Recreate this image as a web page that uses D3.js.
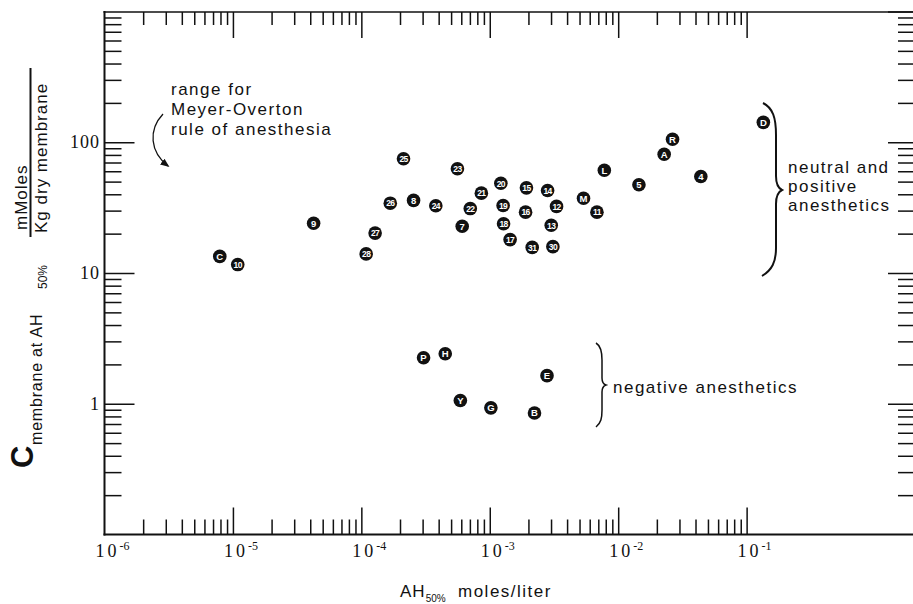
<!DOCTYPE html>
<html><head><meta charset="utf-8">
<script src="https://cdn.jsdelivr.net/npm/d3@7"></script>
<style>body{margin:0;background:#fff}svg{display:block}</style>
</head><body>
<svg id="c" width="913" height="604"></svg>
<script>
// ---- data ----
const posLabels = ["C","10","9","28","27","26","25","8","24","23","7","22","21","20","19","18","17","15","16","31","14","12","13","30","M","11","L","5","A","R","4","D"];
const posX = [7.9e-6,1.09e-5,4.25e-5,1.09e-4,1.28e-4,1.68e-4,2.13e-4,2.55e-4,3.8e-4,5.6e-4,6.1e-4,7.05e-4,8.6e-4,1.22e-3,1.27e-3,1.28e-3,1.44e-3,1.93e-3,1.9e-3,2.14e-3,2.82e-3,3.31e-3,3.01e-3,3.1e-3,5.37e-3,6.83e-3,7.8e-3,1.45e-2,2.28e-2,2.65e-2,4.4e-2,0.135];
const posY = [13.4,11.6,24.0,14.0,20.2,34.2,74.7,35.9,32.7,62.7,22.8,31.1,40.8,48.6,32.8,23.8,18.0,44.8,29.2,15.7,42.8,32.3,23.2,15.9,37.3,29.2,61.1,47.3,81.0,105.5,54.7,142];
const negLabels = ["P","H","Y","G","B","E"];
const negX = [3.05e-4,4.5e-4,5.9e-4,1.02e-3,2.23e-3,2.79e-3];
const negY = [2.25,2.41,1.06,0.93,0.85,1.64];
const xMajor = [1e-6,1e-5,1e-4,1e-3,1e-2,1e-1];
const xTickExp = ["-6","-5","-4","-3","-2","-1"];
const yMajor = [1,10,100];
const yTickLabels = ["1","10","100"];
const xDomain = [1e-6, 1.975];
const yDomain = [0.1, 1000];

// ---- drawing ----
const svg = d3.select("#c");
const x = d3.scaleLog().domain(xDomain).range([104.5, 913]);
const y = d3.scaleLog().domain(yDomain).range([534.5, 11.5]);
const INK = "#111";
const SANS = "'Liberation Sans', Arial, sans-serif";
const SERIF = "'Liberation Serif', 'Times New Roman', serif";

function minors(lo, hi){ const out=[]; for(let k=lo;k<=hi;k++) for(let m=2;m<=9;m++) out.push(m*Math.pow(10,k)); return out; }
const xMinor = minors(-6,-2);
const yMinor = minors(-1,2);

function axis(gen, pos, vals, size){
  const g = svg.append("g").attr("transform", pos)
    .call(gen.tickValues(vals).tickSize(size).tickSizeOuter(0).tickFormat(""));
  g.select(".domain").remove();
  g.selectAll("line").attr("stroke", INK).attr("stroke-width", 1.5);
  return g;
}
axis(d3.axisBottom(x), "translate(0,534.5)", xMinor, -15);
axis(d3.axisBottom(x), "translate(0,534.5)", xMajor.slice(1), -27);
axis(d3.axisTop(x), "translate(0,12)", xMinor, -13);
axis(d3.axisTop(x), "translate(0,12)", xMajor.slice(1), -26);
axis(d3.axisLeft(y), "translate(104.5,0)", yMinor, -17);
axis(d3.axisLeft(y), "translate(104.5,0)", yMajor, -30);
axis(d3.axisRight(y), "translate(913,0)", yMinor, -15);
axis(d3.axisRight(y), "translate(913,0)", yMajor.concat([1000]), -25);

// frame
svg.append("line").attr("x1",104.5).attr("x2",104.5).attr("y1",11).attr("y2",535.5).attr("stroke",INK).attr("stroke-width",2);
svg.append("line").attr("x1",103.5).attr("x2",913).attr("y1",534.5).attr("y2",534.5).attr("stroke",INK).attr("stroke-width",2);
svg.append("line").attr("x1",103.5).attr("x2",913).attr("y1",12).attr("y2",12).attr("stroke",INK).attr("stroke-width",1.5);

// x tick labels
const xl = svg.append("g").selectAll("text").data(xMajor).join("text")
  .attr("x", d => x(d) - 9).attr("y", 557)
  .attr("font-family", SERIF).attr("font-size", 18).attr("fill", INK);
xl.append("tspan").attr("letter-spacing", 3).text("10");
xl.append("tspan").attr("font-size", 12).attr("dy", -7).text((d,i) => xTickExp[i]);

// y tick labels
svg.append("g").selectAll("text").data(yMajor).join("text")
  .attr("x", 100).attr("y", d => y(d) + 6).attr("text-anchor","end")
  .attr("font-family", SERIF).attr("font-size", 18).attr("letter-spacing", 1).attr("fill", INK)
  .text((d,i) => yTickLabels[i]);

// points
function points(lbls, xs, ys){
  const g = svg.append("g").selectAll("g").data(lbls.map((l,i)=>({l, x:xs[i], y:ys[i]}))).join("g")
    .attr("transform", d => `translate(${x(d.x)},${y(d.y)})`);
  g.append("circle").attr("r", 6.8).attr("fill", INK);
  g.append("text").attr("text-anchor","middle").attr("dy", 3.3)
    .attr("font-family", SANS).attr("font-weight","bold")
    .attr("font-size", d => d.l.length > 1 ? 8.5 : 9.5)
    .attr("letter-spacing", d => d.l.length > 1 ? -0.6 : 0)
    .attr("fill","#fff").text(d => d.l);
}
points(posLabels, posX, posY);
points(negLabels, negX, negY);

// annotations
function lines(xp, ys, strs, ls){
  strs.forEach((s,i) => svg.append("text").attr("x", xp).attr("y", ys[i])
    .attr("font-family", SANS).attr("font-size", 17).attr("letter-spacing", ls).attr("fill", INK).text(s));
}
lines(171, [95,115,135], ["range for","Meyer-Overton","rule of anesthesia"], 1.5);
lines(788, [173,192,211], ["neutral and","positive","anesthetics"], 1.5);
lines(613, [393], ["negative anesthetics"], 1.5);

// arrow
const defs = svg.append("defs");
defs.append("marker").attr("id","ah").attr("viewBox","0 0 10 10").attr("refX",8).attr("refY",5)
  .attr("markerWidth",7).attr("markerHeight",7).attr("orient","auto")
  .append("path").attr("d","M0,1 L10,5 L0,9 z").attr("fill",INK);
svg.append("path").attr("d","M163,114 C148,130 150,152 168,166")
  .attr("fill","none").attr("stroke",INK).attr("stroke-width",1.3).attr("marker-end","url(#ah)");

// braces
svg.append("path").attr("d","M763,103 C773,108 776,118 776,135 L776,176 C776,184 778,188 782,190 C778,192 776,196 776,204 L776,248 C776,262 772,270 762,276")
  .attr("fill","none").attr("stroke",INK).attr("stroke-width",2);
svg.append("path").attr("d","M596,343 C601,346 602,352 602,360 L602,378 C602,382 603,384 606,385 C603,386 602,388 602,392 L602,410 C602,418 601,423 596,427")
  .attr("fill","none").attr("stroke",INK).attr("stroke-width",1.5);

// x title
const xt = svg.append("text").attr("x", 400).attr("y", 597).attr("font-family", SANS).attr("font-size", 17).attr("fill", INK);
xt.append("tspan").attr("letter-spacing",1).text("AH");
xt.append("tspan").attr("font-size", 10).attr("dy", 5).text("50%");
xt.append("tspan").attr("x", 458).attr("dy", -5).attr("letter-spacing",1.5).text("moles/liter");

// y title
function rtext(tx, ty, s, size, opts={}){
  const t = svg.append("text").attr("transform", `translate(${tx},${ty}) rotate(-90)`)
    .attr("font-family", SANS).attr("font-size", size).attr("fill", INK)
    .attr("letter-spacing", opts.ls || 0).attr("font-weight", opts.bold ? "bold" : "normal").text(s);
  return t;
}
rtext(33, 468, "C", 31, {bold:true});
rtext(42, 445, "membrane at AH", 16, {ls:0.8});
rtext(47, 289, "50%", 12);
rtext(27, 230, "mMoles", 17, {ls:1});
svg.append("line").attr("x1",30.5).attr("x2",30.5).attr("y1",68).attr("y2",237).attr("stroke",INK).attr("stroke-width",2);
rtext(47, 233, "Kg dry membrane", 17, {ls:1});
</script>
</body></html>
